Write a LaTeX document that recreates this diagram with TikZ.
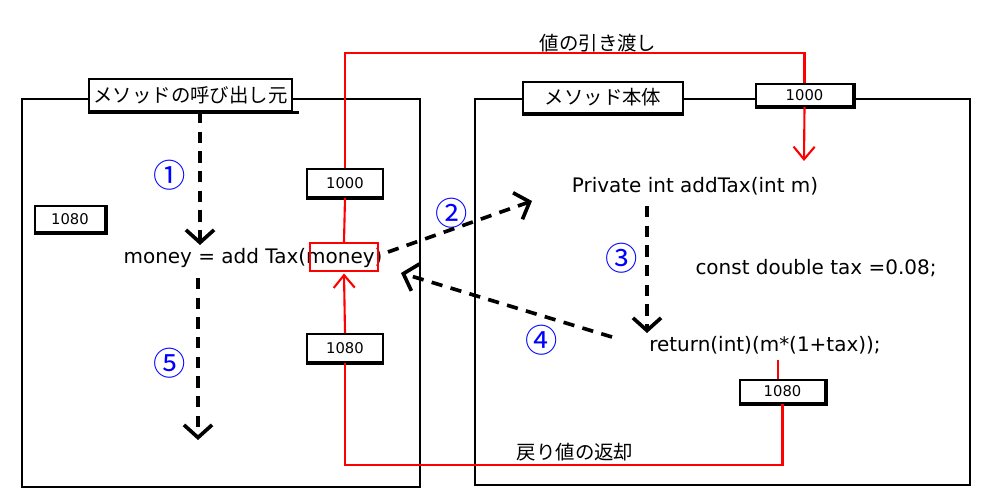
\documentclass[tikz,border=0pt]{standalone}
\usepackage{fontspec}
\setmainfont{DejaVu Sans}
\newfontfamily\jp{Noto Sans CJK JP}
\usetikzlibrary{arrows.meta}
\definecolor{rd}{RGB}{255,0,0}
\definecolor{bl}{RGB}{0,0,255}
\begin{document}
\begin{tikzpicture}[x=0.025cm,y=-0.025cm,
  frame/.style={draw=black,line width=1.8pt},
  lblbox/.style={draw=black,line width=1.5pt,fill=white,inner sep=0pt,font=\jp\fontsize{13.8}{16}\selectfont},
  numbox/.style={draw=black,line width=1.5pt,fill=white,inner sep=0pt,font=\fontsize{10.5}{12}\selectfont},
  code/.style={inner sep=0pt,font=\fontsize{14.2}{16}\selectfont},
  jtext/.style={inner sep=0pt,font=\jp\fontsize{13.8}{16}\selectfont},
  circ/.style={inner sep=0pt,text=bl,font=\jp\fontsize{23}{25}\selectfont},
  flow/.style={draw=black,line width=2.6pt,dash pattern=on 8pt off 6pt,
     -{Straight Barb[length=9pt,width=20pt,line width=2.6pt]}},
  redl/.style={draw=rd,line width=1.5pt},
  reda/.style={draw=rd,line width=1.5pt,-{Straight Barb[length=9pt,width=15pt,line width=1.5pt]}}
]
\useasboundingbox[fill=white] (0,0) rectangle (1000,500);
% main frames
\draw[frame] (22,99) rectangle (420,487);
\draw[frame] (475,99) rectangle (970,485);
% labels
\node[lblbox,minimum width=5.075cm,minimum height=0.8cm] (callerlbl) at (190.5,95) {メソッドの呼び出し元};
\draw[line width=2.2pt] (callerlbl.south west) -- ([xshift=4pt]callerlbl.south east);
\node[lblbox,minimum width=4cm,minimum height=0.775cm] (bodylbl) at (603,97.5) {メソッド本体};
\draw[line width=2.2pt] (bodylbl.south west) -- (bodylbl.south east);
% value boxes
\node[numbox,minimum width=1.9cm,minimum height=0.7cm] (valL) at (345,183) {1000};
\node[numbox,minimum width=1.9cm,minimum height=0.7cm] (resL) at (345,348) {1080};
\node[numbox,minimum width=1.75cm,minimum height=0.65cm] (loc) at (70,219) {1080};
\node[numbox,minimum width=2.425cm,minimum height=0.55cm] (valR) at (804.5,95) {1000};
\node[numbox,minimum width=2.125cm,minimum height=0.575cm] (resR) at (782.5,391.5) {1080};
\draw[line width=2.2pt] (valL.south west) -- (valL.south east);
\draw[line width=2.2pt] (resL.south west) -- (resL.south east);
\draw[line width=2.2pt] (loc.south west) -- (loc.south east) -- (loc.north east);
\draw[line width=2.2pt] (valR.south west) -- (valR.south east) -- (valR.north east);
\draw[line width=2.2pt] (resR.south west) -- (resR.south east) -- (resR.north east);
% code texts
\node[code] (money) at (253,258) {money = add Tax(money)};
\node[draw=rd,line width=1.5pt,minimum width=1.7cm,minimum height=0.7cm,inner sep=0pt] (arg) at (344,257) {};
\node[code] (priv) at (695,186) {Private int addTax(int m)};
\node[code] (const) at (816,268) {const double tax =0.08;};
\node[code] (ret) at (765,345) {return(int)(m*(1+tax));};
% japanese captions
\node[jtext] (pass) at (598,43) {値の引き渡し};
\node[jtext] (back) at (575,452) {戻り値の返却};
% circled numbers
\node[circ] (n1) at (170,175) {①};
\node[circ] (n2) at (452,213) {②};
\node[circ] (n3) at (622,258) {③};
\node[circ] (n4) at (542,340) {④};
\node[circ] (n5) at (170,363) {⑤};
% coordinates for flow arrows
\coordinate (f1s) at (200,112);
\coordinate (f1e) at (200,245);
\coordinate (f2s) at (388,252);
\coordinate (f2e) at (532,201);
\coordinate (f3s) at (647,206);
\coordinate (f3e) at (647,333);
\coordinate (f4s) at (612,337);
\coordinate (f4e) at (401,273);
\coordinate (f5s) at (198,278);
\coordinate (f5e) at (198,440);
\draw[flow] (f1s) -- (f1e);
\draw[flow] (f2s) -- (f2e);
\draw[flow] (f3s) -- (f3e);
\draw[flow] (f4s) -- (f4e);
\draw[flow] (f5s) -- (f5e);
% red value passing
\coordinate (ptop) at (0,53);
\coordinate (parr) at (804,161);
\draw[redl] (valL.north) |- (ptop -| valR.north) -- (valR.north);
\draw[redl] (valL.south) -- (arg.north);
\draw[reda] (valR.south) -- (parr);
% red return
\coordinate (rtop) at (778,360);
\coordinate (rbot) at (0,465);
\draw[redl] (rtop) -- (rtop |- resR.north);
\draw[redl] (resR.south) |- (rbot -| resL.south) -- (resL.south);
\draw[reda] (resL.north) -- ([yshift=-1pt]arg.south);
\end{tikzpicture}
\end{document}
